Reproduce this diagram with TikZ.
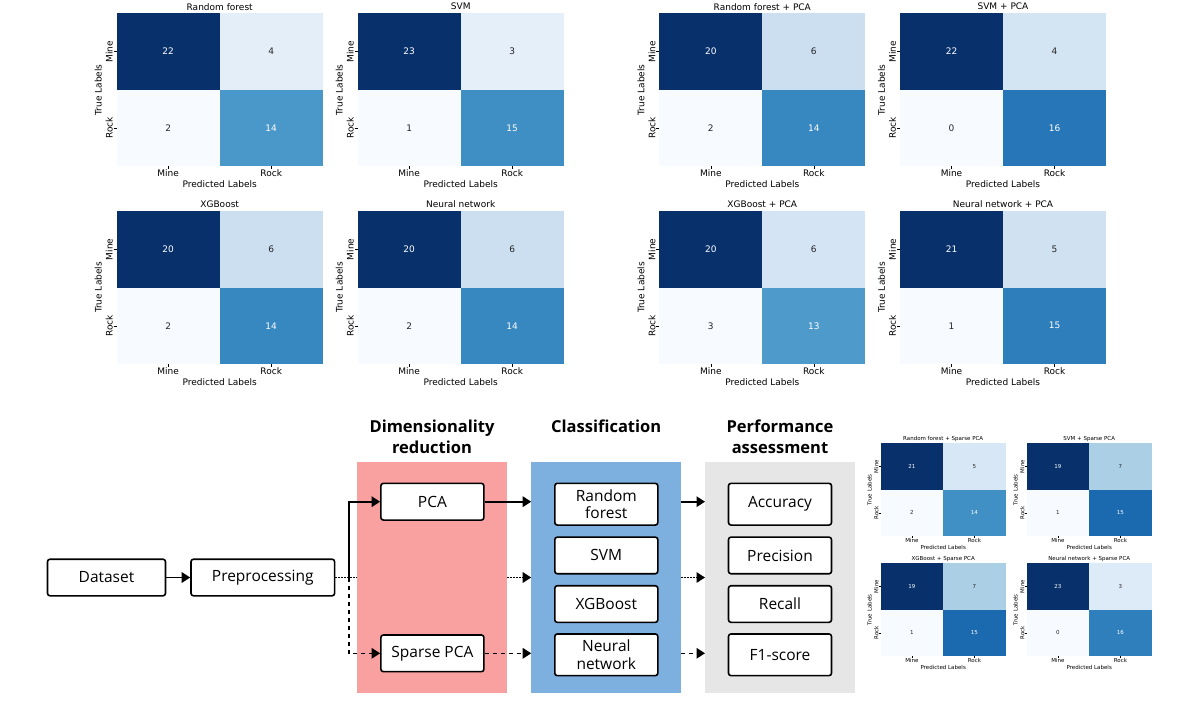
\documentclass[tikz,border=0pt]{standalone}
\usepackage{fontspec}
\setmainfont{Open Sans}
\newfontfamily\mplfont{DejaVu Sans}
\usetikzlibrary{positioning,arrows.meta}

% colours of the heat maps (Blues)
\definecolor{cellhi}{RGB}{8,48,107}
\definecolor{celllo}{RGB}{247,251,255}
\definecolor{rfB}{RGB}{227,238,249}
\definecolor{rfD}{RGB}{74,152,201}
\definecolor{svB}{RGB}{229,239,249}
\definecolor{svD}{RGB}{63,143,197}
\definecolor{xgB}{RGB}{203,223,241}
\definecolor{xgD}{RGB}{55,135,192}
\definecolor{svpB}{RGB}{211,228,243}
\definecolor{svpD}{RGB}{39,119,184}
\definecolor{xgpB}{RGB}{212,228,244}
\definecolor{xgpD}{RGB}{78,154,203}
\definecolor{nnpB}{RGB}{208,225,242}
\definecolor{nnpD}{RGB}{46,126,188}
\definecolor{rfsB}{RGB}{216,231,245}
\definecolor{rfsD}{RGB}{64,144,197}
\definecolor{svsB}{RGB}{171,208,230}
\definecolor{svsD}{RGB}{27,106,175}
\definecolor{nnsB}{RGB}{221,234,247}
\definecolor{nnsD}{RGB}{47,127,188}
\definecolor{annot}{RGB}{38,38,38}
% colours of the pipeline
\definecolor{dimcol}{RGB}{249,160,160}
\definecolor{clscol}{RGB}{125,176,222}
\definecolor{perfcol}{RGB}{230,230,230}

\tikzset{
  flowbox/.style={draw, line width=1.6pt, rounded corners=2.5pt, fill=white,
    minimum width=103pt, minimum height=36.6pt, inner sep=0pt, align=center,
    font=\fontsize{15.5}{17.6}\selectfont},
  band/.style={minimum width=149.6pt, minimum height=230.7pt, inner sep=0pt},
  heading/.style={font=\fontsize{16.5}{20.5}\selectfont\bfseries, align=center,
    inner sep=0pt, anchor=north},
  link/.style={line width=1.6pt},
  tip/.style={-{Triangle[length=8.5pt,width=10.5pt]}},
  dotlink/.style={link, dash pattern=on 1.5pt off 1.5pt},
  dashlink/.style={link, dash pattern=on 4pt off 4pt}
}

\begin{document}
\begin{tikzpicture}[x=1pt, y=1pt]
  \useasboundingbox (0,0) rectangle (1200,-709);

  % Confusion matrices
  \foreach \mx/\my/\sc/\fs/\ttl/\va/\vb/\vc/\vd/\cb/\cd [count=\k] in {
      116.7/-13.3/1/9/{Random forest}/22/4/2/14/rfB/rfD,
      357.7/-13.3/1/9/SVM/23/3/1/15/svB/svD,
      659.3/-13.3/1/9/{Random forest + PCA}/20/6/2/14/xgB/xgD,
      900/-13.3/1/9/{SVM + PCA}/22/4/0/16/svpB/svpD,
      116.7/-211/1/9/XGBoost/20/6/2/14/xgB/xgD,
      357.7/-211/1/9/{Neural network}/20/6/2/14/xgB/xgD,
      659.3/-211/1/9/{XGBoost + PCA}/20/6/3/13/xgpB/xgpD,
      900/-211/1/9/{Neural network + PCA}/21/5/1/15/nnpB/nnpD,
      880.7/-443.3/0.607/5.5/{Random forest + Sparse PCA}/21/5/2/14/rfsB/rfsD,
      1026.7/-443.3/0.607/5.5/{SVM + Sparse PCA}/19/7/1/15/svsB/svsD,
      880.7/-563.3/0.607/5.5/{XGBoost + Sparse PCA}/19/7/1/15/svsB/svsD,
      1026.7/-563.3/0.607/5.5/{Neural network + Sparse PCA}/23/3/0/16/nnsB/nnsD} {
    \begin{scope}[shift={(\mx,\my)}, scale=\sc,
        every node/.style={font=\mplfont\fontsize{\fs}{\fs}\selectfont, inner sep=0pt}]
      \fill[cellhi] (0,0) rectangle (103,-76.5);
      \fill[\cb] (103,0) rectangle (206,-76.5);
      \fill[celllo] (0,-76.5) rectangle (103,-153);
      \fill[\cd] (103,-76.5) rectangle (206,-153);
      \node[white] (a\k) at (51.5,-38.25) {\va};
      \node[annot] (b\k) at (154.5,-38.25) {\vb};
      \node[annot] (c\k) at (51.5,-114.75) {\vc};
      \node[white] (d\k) at (154.5,-114.75) {\vd};
      \node (ttl\k) at (103,6.6) {\ttl};
      % ticks
      \foreach \p in {38.25,114.75} {
        \draw[line width=0.5pt] (-3,-\p) -- (0,-\p);
      }
      \foreach \p in {51.5,154.5} {
        \draw[line width=0.5pt] (\p,-153) -- (\p,-156);
      }
      \node[rotate=90] (rm\k) at (-7.4,-38.25) {Mine};
      \node[rotate=90] (rr\k) at (-7.4,-114.75) {Rock};
      \node[rotate=90] (ylab\k) at (-18.4,-76.5) {True Labels};
      \node (cm\k) at (51.5,-160.3) {Mine};
      \node (cr\k) at (154.5,-160.3) {Rock};
      \node (xlab\k) at (103,-171.3) {Predicted Labels};
    \end{scope}
  }

  % The three stages
  \node[band, fill=dimcol] (dimband) at (432,-577.3) {};
  \node[band, fill=clscol] (clsband) at (606.2,-577.3) {};
  \node[band, fill=perfcol] (perfband) at (780,-577.3) {};
  \node[heading] (dimhead) at (432,-420) {Dimensionality\\reduction};
  \node[heading] (clshead) at (606.2,-420) {Classification};
  \node[heading] (perfhead) at (780,-420) {Performance\\assessment};

  \node[flowbox, minimum width=118pt] (dataset) at (106.5,-577.5) {Dataset};
  \node[flowbox, minimum width=143.6pt, right=23.9pt of dataset] (prep) {Preprocessing};
  \node[flowbox, minimum height=36.7pt] (pca) at (432.4,-501.7) {PCA};
  \node[flowbox, minimum height=36.7pt] (spca) at (432.4,-653.3) {Sparse PCA};

  \node[flowbox, minimum height=41.7pt] (rf) at (606.3,-504.2) {Random\\forest};
  \node[flowbox, below=10.5pt of rf] (svm) {SVM};
  \node[flowbox, below=10.4pt of svm] (xgb) {XGBoost};
  \node[flowbox, minimum height=41.7pt, below=10pt of xgb] (nn) {Neural\\network};

  \node[flowbox, minimum height=41.7pt] (acc) at (780,-504.2) {Accuracy};
  \node[flowbox, below=10.5pt of acc] (prec) {Precision};
  \node[flowbox, below=10.4pt of prec] (rec) {Recall};
  \node[flowbox, minimum height=41.7pt, below=10pt of rec] (fone) {F1-score};

  % Connectors
  \coordinate (split) at ([xshift=13.5pt]prep.east);
  \draw[link, tip] (dataset) -- (prep);
  \draw[dotlink] (prep.east) -- (prep -| dimband.west);
  \draw[link, tip] (split) |- (pca.west);
  \draw[dashlink, tip] (split) |- (spca.west);

  \draw[link, tip] (pca) -- (pca -| clsband.west);
  \draw[dotlink, tip] (prep -| dimband.east) -- (prep -| clsband.west);
  \draw[dashlink, tip] (spca) -- (spca -| clsband.west);

  \draw[link, tip] (pca -| clsband.east) -- (pca -| perfband.west);
  \draw[dotlink, tip] (prep -| clsband.east) -- (prep -| perfband.west);
  \draw[dashlink, tip] (spca -| clsband.east) -- (spca -| perfband.west);
\end{tikzpicture}
\end{document}
